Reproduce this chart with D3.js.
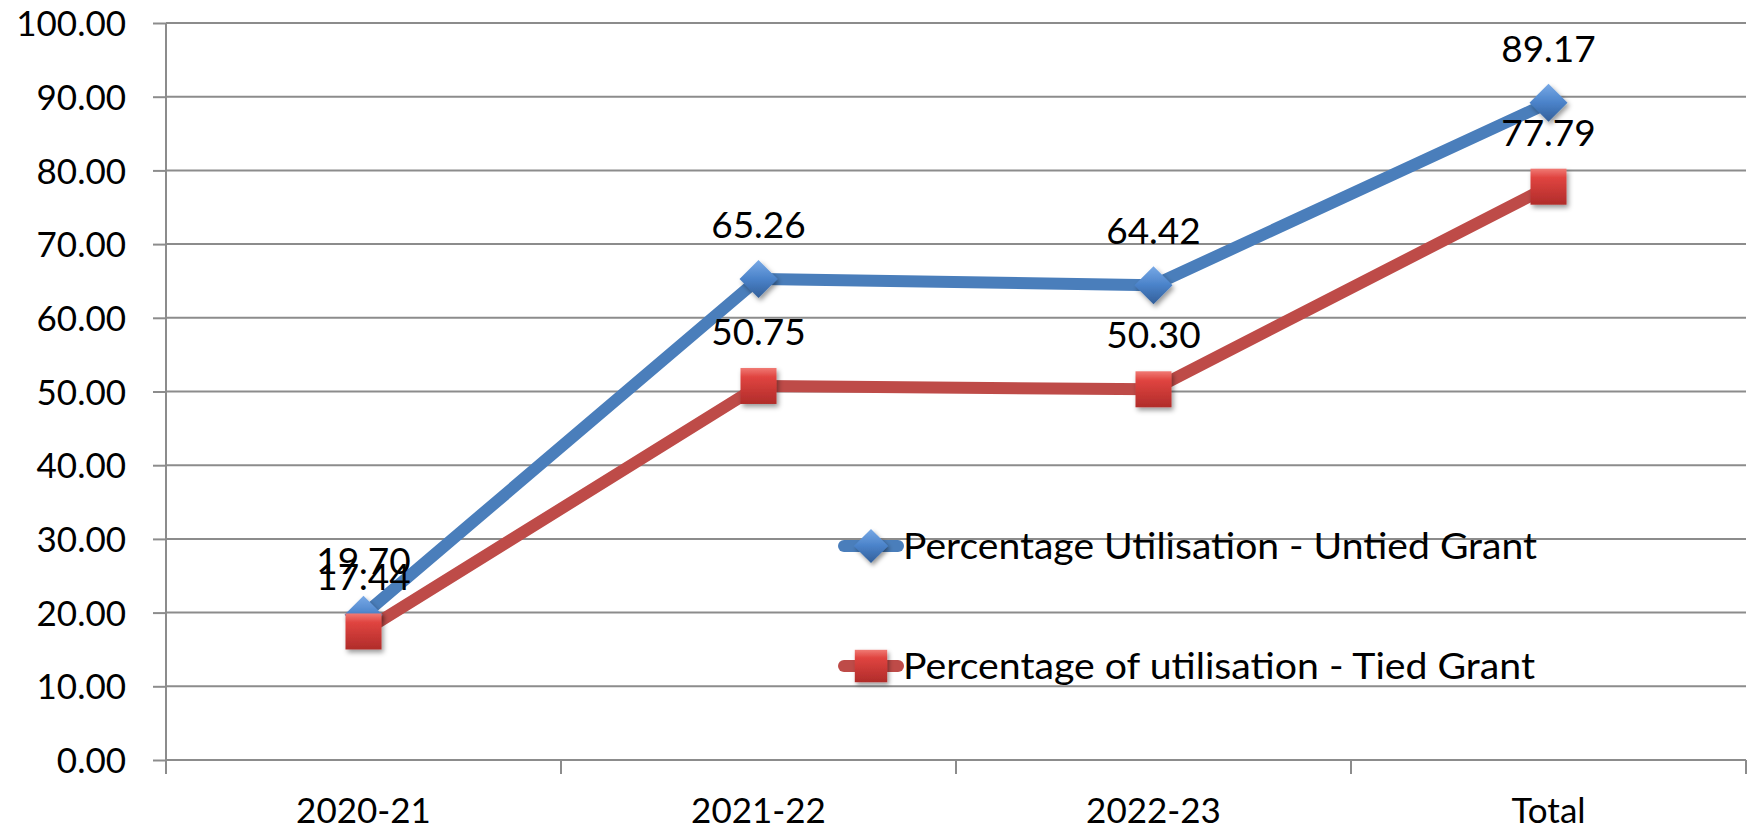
<!DOCTYPE html>
<html>
<head>
<meta charset="utf-8">
<script src="https://cdn.jsdelivr.net/npm/d3@7"></script>
<style>
  body { margin: 0; background: #fff; }
  svg text { font-family: Lato, "Open Sans", sans-serif; fill: #000; }
</style>
</head>
<body>
<div id="chart"></div>
<script>
// chart data
const categories = ["2020-21", "2021-22", "2022-23", "Total"];
const untied = [19.70, 65.26, 64.42, 89.17];
const tied = [17.44, 50.75, 50.30, 77.79];
const seriesNames = ["Percentage Utilisation - Untied Grant", "Percentage of utilisation - Tied Grant"];
const yTicks = [0, 10, 20, 30, 40, 50, 60, 70, 80, 90, 100];

const W = 1757, H = 833;
const margin = {top: 23, right: 11, bottom: 73, left: 166};
const iw = W - margin.left - margin.right;
const ih = H - margin.top - margin.bottom;

const svg = d3.select("#chart").append("svg")
    .attr("width", W)
    .attr("height", H);

const defs = svg.append("defs");
const shadow = defs.append("filter").attr("id", "shadow")
    .attr("x", "-50%").attr("y", "-50%").attr("width", "200%").attr("height", "200%");
shadow.append("feDropShadow").attr("dx", 2).attr("dy", 3).attr("stdDeviation", 2.5)
    .attr("flood-color", "#000").attr("flood-opacity", 0.4);

const gBlue = defs.append("linearGradient").attr("id", "gBlue").attr("x1", 0).attr("y1", 0).attr("x2", 0).attr("y2", 1);
gBlue.append("stop").attr("offset", "0%").attr("stop-color", "#78a9e6");
gBlue.append("stop").attr("offset", "50%").attr("stop-color", "#4a82c9");
gBlue.append("stop").attr("offset", "100%").attr("stop-color", "#335f99");

const gRed = defs.append("linearGradient").attr("id", "gRed").attr("x1", 0).attr("y1", 0).attr("x2", 0).attr("y2", 1);
gRed.append("stop").attr("offset", "0%").attr("stop-color", "#f07a74");
gRed.append("stop").attr("offset", "25%").attr("stop-color", "#e04440");
gRed.append("stop").attr("offset", "100%").attr("stop-color", "#b02c2a");

const g = svg.append("g").attr("transform", "translate(" + margin.left + "," + margin.top + ")");

const x = d3.scaleBand().domain(categories).range([0, iw]).padding(0);
const y = d3.scaleLinear().domain([0, 100]).range([ih, 0]);

const gridColor = "#8c8c8c";

// horizontal gridlines
g.selectAll(".grid").data(yTicks).enter().append("line")
    .attr("x1", 0).attr("x2", iw)
    .attr("y1", d => y(d)).attr("y2", d => y(d))
    .attr("stroke", gridColor).attr("stroke-width", 2);

// y axis
const yAxis = g.append("g").call(d3.axisLeft(y).tickValues(yTicks).tickSize(13).tickPadding(27).tickFormat(d3.format(".2f")));
yAxis.select(".domain").remove();
yAxis.selectAll(".tick line").attr("stroke", gridColor).attr("stroke-width", 2);
yAxis.selectAll(".tick text").style("font-size", "35px").attr("dy", "0.36em");
g.append("line").attr("x1", 0).attr("x2", 0).attr("y1", 0).attr("y2", ih + 14)
    .attr("stroke", gridColor).attr("stroke-width", 2);

// x axis
const xAxis = g.append("g").attr("transform", "translate(0," + ih + ")")
    .call(d3.axisBottom(x).tickSize(0).tickPadding(38));
xAxis.select(".domain").remove();
xAxis.selectAll(".tick text").style("font-size", "35px");
g.selectAll(".xtick").data(categories).enter().append("line")
    .attr("x1", d => x(d) + x.bandwidth()).attr("x2", d => x(d) + x.bandwidth())
    .attr("y1", ih).attr("y2", ih + 14)
    .attr("stroke", gridColor).attr("stroke-width", 2);

// lines
const line = d3.line().x((d, i) => x(categories[i]) + x.bandwidth() / 2).y(d => y(d));
const series = [
    {name: seriesNames[0], values: untied, color: "#4a7ebb", marker: "diamond", fill: "url(#gBlue)"},
    {name: seriesNames[1], values: tied, color: "#be4b48", marker: "square", fill: "url(#gRed)"}
];

function drawMarker(sel, type, fill, s) {
    s = s || 1;
    if (type === "diamond") {
        sel.append("path").attr("d", "M0,-19L19,0L0,19L-19,0Z")
            .attr("transform", "scale(" + s + ")")
            .attr("fill", fill).attr("filter", "url(#shadow)");
    } else {
        sel.append("rect").attr("x", -18).attr("y", -18).attr("width", 36).attr("height", 36)
            .attr("transform", "scale(" + s + ")")
            .attr("fill", fill).attr("filter", "url(#shadow)");
    }
}

series.slice().reverse().forEach(s => {
    g.append("path").datum(s.values)
        .attr("d", line)
        .attr("fill", "none")
        .attr("stroke", s.color)
        .attr("stroke-width", 12)
        .attr("stroke-linejoin", "round")
        .attr("stroke-linecap", "round");
});

series.forEach(s => {
    s.values.forEach((v, i) => {
        const m = g.append("g").attr("transform", "translate(" + (x(categories[i]) + x.bandwidth() / 2) + "," + y(v) + ")");
        drawMarker(m, s.marker, s.fill);
    });
});

// data labels
series.forEach(s => {
    g.selectAll(null).data(s.values).enter().append("text")
        .attr("x", (d, i) => x(categories[i]) + x.bandwidth() / 2)
        .attr("y", d => y(d) - 41)
        .attr("text-anchor", "middle")
        .style("font-size", "37px")
        .text(d => d3.format(".2f")(d));
});

// legend
const legend = svg.append("g").attr("transform", "translate(838,546)");
series.forEach((s, i) => {
    const row = legend.append("g").attr("transform", "translate(0," + i * 120 + ")");
    row.append("line").attr("x1", 6).attr("x2", 60).attr("y1", 0).attr("y2", 0)
        .attr("stroke", s.color).attr("stroke-width", 12).attr("stroke-linecap", "round");
    const m = row.append("g").attr("transform", "translate(33,0)");
    drawMarker(m, s.marker, s.fill, 0.9);
    row.append("text").attr("x", 65).attr("y", 13)
        .style("font-size", "37px")
        .attr("textLength", i === 0 ? 634 : 632)
        .attr("lengthAdjust", "spacingAndGlyphs")
        .text(s.name);
});
</script>
</body>
</html>
